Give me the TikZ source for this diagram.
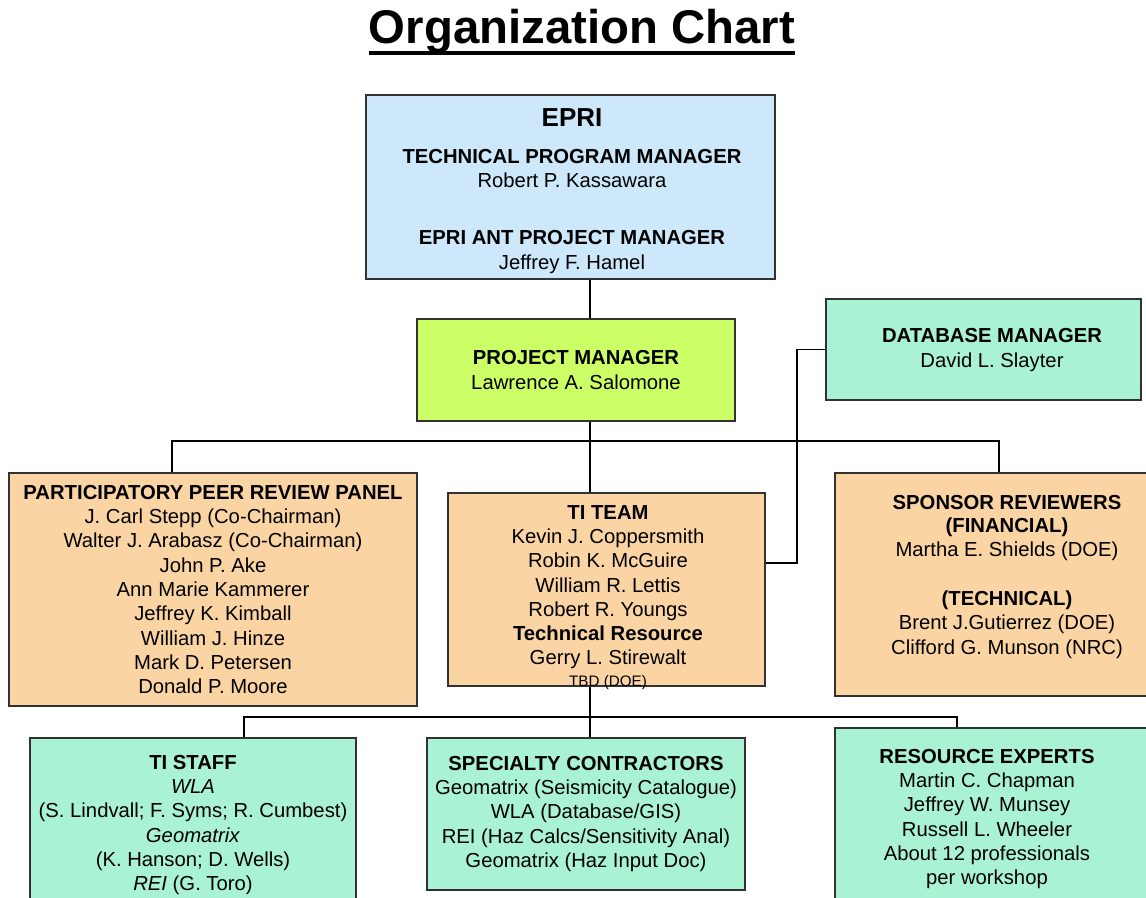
\documentclass[tikz,border=0pt]{standalone}
\usepackage{fontspec}
\setmainfont{Liberation Sans}
\definecolor{epriblue}{RGB}{204,232,250}
\definecolor{pmgreen}{RGB}{204,255,102}
\definecolor{mint}{RGB}{170,242,212}
\definecolor{peach}{RGB}{251,212,164}
\definecolor{edge}{RGB}{50,50,50}
\tikzset{
  box/.style={draw=edge, line width=1.2pt, inner sep=0pt, align=center,
              font=\fontsize{15.2}{18.2}\selectfont},
  txt/.style={align=center, inner sep=0pt, font=\fontsize{15.2}{18.2}\selectfont},
  ln/.style={line width=1.1pt, black}
}
\begin{document}
\begin{tikzpicture}[x=0.75pt,y=-0.75pt]
\useasboundingbox (0,0) rectangle (1146,897);
\clip (0,0) rectangle (1146,897);

% title
\node[inner sep=0pt, anchor=base, font=\fontsize{35.5}{40}\selectfont\bfseries] (title) at (582,43) {Organization Chart};
\draw[line width=3pt] ([yshift=-7.5pt]title.base west) -- ([yshift=-7.5pt]title.base east);

% boxes
\node[box, fill=epriblue, minimum width=306.75pt, minimum height=138pt] (epri) at (570.5,187) {};
\node[txt] (eprit) at (572,191)
  {{\fontsize{19.5}{22}\selectfont\bfseries EPRI}\\[9.5pt]
   \textbf{TECHNICAL PROGRAM MANAGER}\\
   Robert P. Kassawara\\[24.5pt]
   \textbf{EPRI ANT PROJECT MANAGER}\\
   Jeffrey F. Hamel};

\node[box, fill=pmgreen, minimum width=238.5pt, minimum height=76.5pt] (pm) at (576,370)
  {\textbf{PROJECT MANAGER}\\Lawrence A. Salomone};

\node[box, fill=mint, minimum width=236.25pt, minimum height=75.75pt] (db) at (983.5,349.5) {};
\node[txt] (dbt) at (992,350) {\textbf{DATABASE MANAGER}\\David L. Slayter};

\node[box, fill=peach, minimum width=306pt, minimum height=174.75pt] (pprp) at (213,589.5)
  {\textbf{PARTICIPATORY PEER REVIEW PANEL}\\
   J. Carl Stepp (Co-Chairman)\\
   Walter J. Arabasz (Co-Chairman)\\
   John P. Ake\\
   Ann Marie Kammerer\\
   Jeffrey K. Kimball\\
   William J. Hinze\\
   Mark D. Petersen\\
   Donald P. Moore};

\node[box, fill=peach, minimum width=237.75pt, minimum height=144.75pt] (ti) at (606.5,589.5) {};
\node[txt, anchor=north] (tit) at (608,505)
  {\textbf{TI TEAM}\\
   Kevin J. Coppersmith\\
   Robin K. McGuire\\
   William R. Lettis\\
   Robert R. Youngs\\
   \textbf{Technical Resource}\\
   Gerry L. Stirewalt\\[-2pt]
   {\fontsize{11.4}{13}\selectfont TBD (DOE)}};

\node[box, fill=peach, minimum width=243.75pt, minimum height=167.25pt] (sponsor) at (997.5,584.5) {};
\node[txt, anchor=north] (spt) at (1007,495)
  {\textbf{SPONSOR REVIEWERS}\\[-1pt]
   \textbf{(FINANCIAL)}\\
   Martha E. Shields (DOE)\\[18.5pt]
   \textbf{(TECHNICAL)}\\
   Brent J.Gutierrez (DOE)\\
   Clifford G. Munson (NRC)};

\node[box, fill=mint, minimum width=244.5pt, minimum height=181.5pt] (tistaff) at (193,859) {};
\node[txt, anchor=north] (tst) at (193,755)
  {\textbf{TI STAFF}\\
   \textit{WLA}\\
   (S. Lindvall; F. Syms; R. Cumbest)\\
   \textit{Geomatrix}\\
   (K. Hanson; D. Wells)\\
   \textit{REI} (G. Toro)};

\node[box, fill=mint, minimum width=238.5pt, minimum height=114pt] (spec) at (586,814)
  {\textbf{SPECIALTY CONTRACTORS}\\
   Geomatrix (Seismicity Catalogue)\\
   WLA (Database/GIS)\\
   REI (Haz Calcs/Sensitivity Anal)\\
   Geomatrix (Haz Input Doc)};

\node[box, fill=mint, minimum width=243.75pt, minimum height=189pt] (res) at (997.5,854) {};
\node[txt, anchor=north] (rest) at (987,749)
  {\textbf{RESOURCE EXPERTS}\\
   Martin C. Chapman\\
   Jeffrey W. Munsey\\
   Russell L. Wheeler\\
   About 12 professionals\\
   per workshop};

% connectors
\coordinate (trunk) at (590,0);
\coordinate (b1l) at (172,441);
\coordinate (b1r) at (999,441);
\coordinate (dbx) at (797,563);
\coordinate (b2l) at (244,717);
\coordinate (b2r) at (957,717);
\draw[ln] (epri.south -| trunk) -- (pm.north -| trunk);
\draw[ln] (pm.south -| trunk) -- (ti.north -| trunk);
\draw[ln] (pprp.north -| b1l) -- (b1l) -- (b1r) -- (sponsor.north -| b1r);
\draw[ln] (db.west) -| (dbx) -- (dbx -| ti.east);
\draw[ln] (ti.south -| trunk) -- (spec.north -| trunk);
\draw[ln] (tistaff.north -| b2l) -- (b2l) -- (b2r) -- (res.north -| b2r);
\end{tikzpicture}
\end{document}
